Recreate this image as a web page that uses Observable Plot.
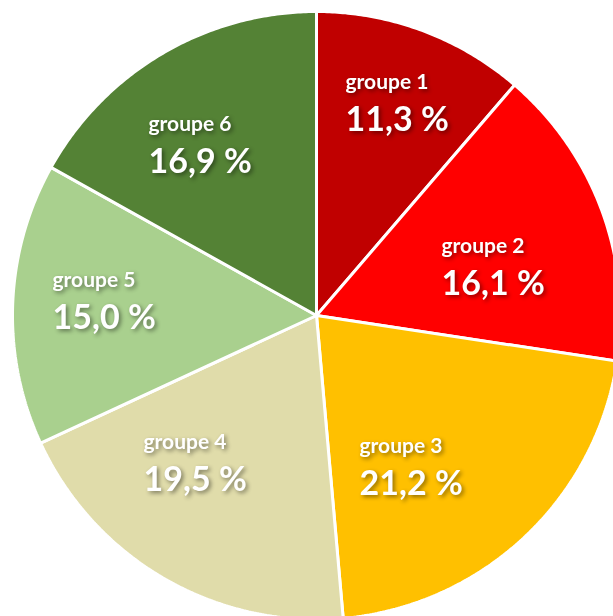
<!DOCTYPE html>
<html>
<head>
<meta charset="utf-8">
<script src="https://cdn.jsdelivr.net/npm/d3@7"></script>
<script src="https://cdn.jsdelivr.net/npm/@observablehq/plot@0.6"></script>
<style>
  html, body { margin: 0; padding: 0; background: #fff; }
  #chart svg text { filter: drop-shadow(2px 2px 2px rgba(0,0,0,0.45)); }
</style>
</head>
<body>
<div id="chart"></div>
<script>
// ---- data ----
const groups = ["groupe 1", "groupe 2", "groupe 3", "groupe 4", "groupe 5", "groupe 6"];
const shares = [11.3, 16.1, 21.2, 19.5, 15.0, 16.9];
const colors = ["#C00000", "#FF0000", "#FFC000", "#E0DCAA", "#A9D08E", "#548235"];
// label anchor offsets from pie centre (layout, in pixel units)
const labelOffsets = [[29, -214], [125, -50], [43, 150], [-173, 146], [-264, -16], [-168, -172]];

// ---- layout ----
const W = 613, H = 616;
const cx = 316, cy = 315, R = 304;

const pie = d3.pie().sort(null).value(d => d.share);
const table = groups.map((g, i) => ({group: g, share: shares[i]}));
const arcs = pie(table);

// polygons for slices (centre -> arc -> centre)
const pts = [];
arcs.forEach(a => {
  const g = a.data.group;
  pts.push({group: g, x: 0, y: 0});
  const n = Math.max(2, Math.ceil((a.endAngle - a.startAngle) / (Math.PI / 360)));
  for (let k = 0; k <= n; k++) {
    const t = a.startAngle + (a.endAngle - a.startAngle) * k / n;
    pts.push({group: g, x: R * Math.sin(t), y: -R * Math.cos(t)});
  }
  pts.push({group: g, x: 0, y: 0});
});

const fmt = v => v.toFixed(1).replace(".", ",") + " %";
const labels = arcs.map((a, i) => ({
  group: a.data.group,
  value: fmt(a.data.share),
  x: labelOffsets[i][0],
  y: labelOffsets[i][1]
}));

const chart = Plot.plot({
  width: W,
  height: H,
  margin: 0,
  x: {domain: [-cx, W - cx], range: [0, W], axis: null},
  y: {domain: [-cy, H - cy], range: [0, H], axis: null},
  color: {domain: groups, range: colors},
  marks: [
    Plot.line(pts, {x: "x", y: "y", z: "group", fill: "group", stroke: "white", strokeWidth: 3, strokeLinejoin: "miter"}),
    Plot.text(labels, {x: "x", y: "y", dy: -19, text: "group", textAnchor: "start", fill: "white",
      fontFamily: "Lato", fontWeight: "bold", fontSize: 21}),
    Plot.text(labels, {x: "x", y: "y", dy: 19, text: "value", textAnchor: "start", fill: "white",
      fontFamily: "Lato", fontWeight: "bold", fontSize: 34})
  ]
});
document.getElementById("chart").append(chart);
</script>
</body>
</html>
